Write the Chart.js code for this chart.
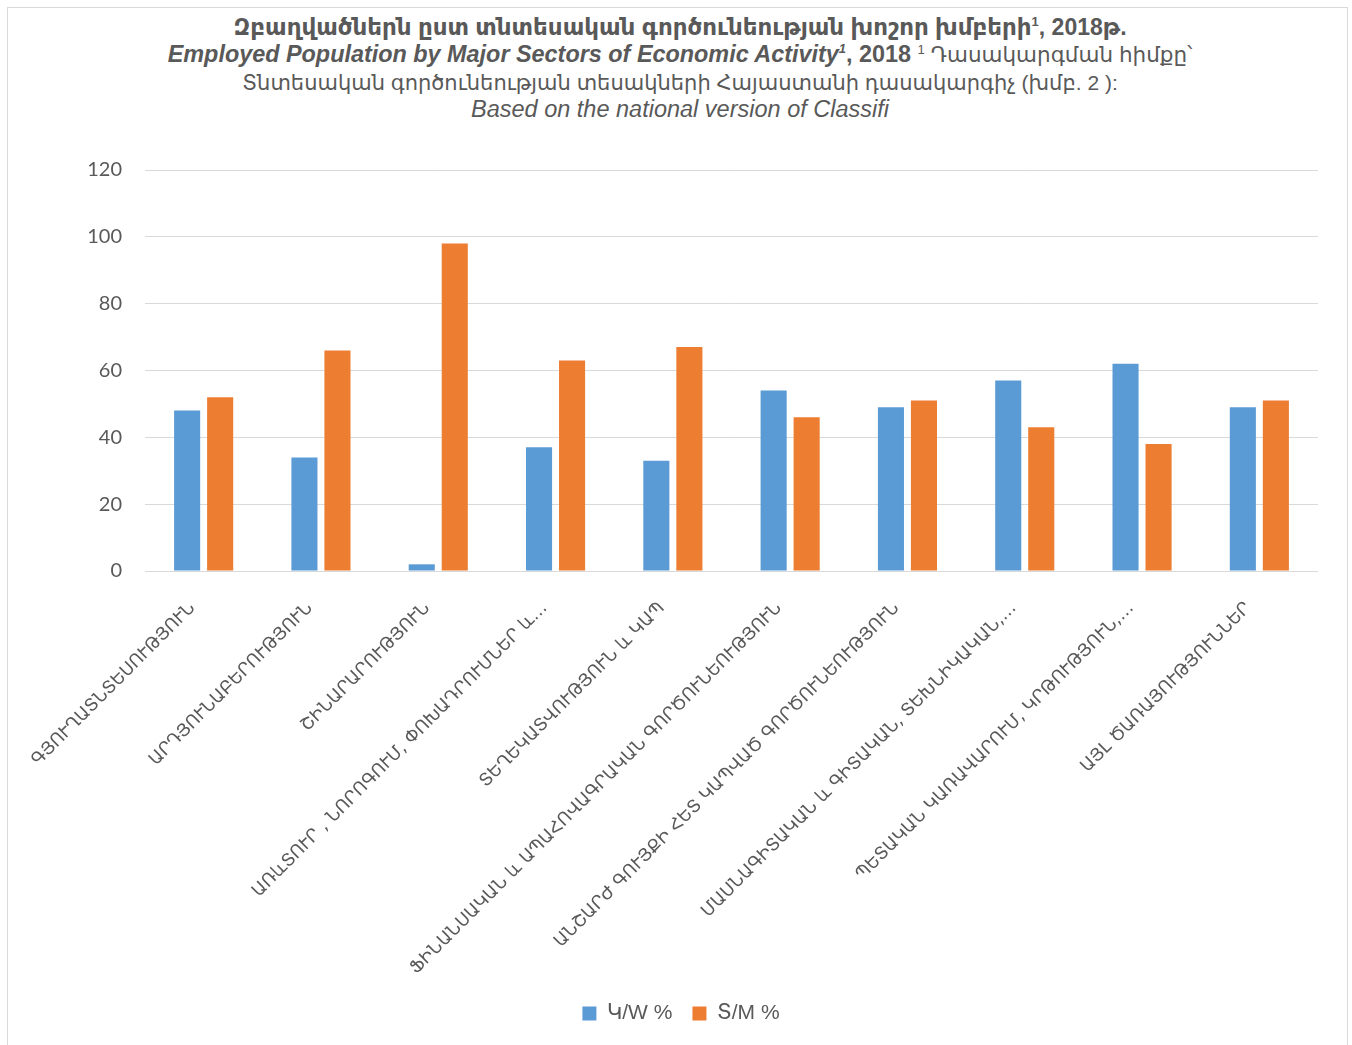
<!DOCTYPE html>
<html>
<head>
<meta charset="utf-8">
<script src="https://cdn.jsdelivr.net/npm/chart.js@4.4.0/dist/chart.umd.min.js"></script>
<style>
  body { margin: 0; background: #fff; }
  #frame { position: absolute; left: 7px; top: 7px; width: 1339px; height: 1050px; border: 1px solid #d9d9d9; }
  #title { position: absolute; left: 4px; top: 14px; width: 1352px; text-align: center;
           font-family: "Liberation Sans", Arial, "DejaVu Sans", sans-serif;
           line-height: 27px; color: #595959; }
  #title div { white-space: nowrap; }
  #title sup { font-size: 13px; line-height: 0; }
  .l1 { font-size: 23px; font-weight: bold; }
  .l2 { font-size: 23.4px; }
  .l2 .arm { font-size: 21.5px; }
  .l3 { font-size: 21px; }
  .l4 { font-size: 23.5px; font-style: italic; }
  #wrap { position: absolute; left: 0; top: 0; width: 1352px; height: 1045px; }
</style>
</head>
<body>
<div id="frame"></div>
<div id="title">
  <div class="l1">Զբաղվածներն ըստ տնտեսական գործունեության խոշոր խմբերի<sup>1</sup>, 2018թ.</div>
  <div class="l2"><b><i>Employed Population by Major Sectors of Economic Activity<sup>1</sup></i>, 2018</b> <span class="arm"><sup>1</sup> Դասակարգման հիմքը՝</span></div>
  <div class="l3">Տնտեսական գործունեության տեսակների Հայաստանի դասակարգիչ (խմբ. 2 ):</div>
  <div class="l4">Based on the national version of Classifi</div>
</div>
<div id="wrap"><canvas id="chart"></canvas></div>
<script>
var categories = [
  'ԳՅՈՒՂԱՏՆՏԵՍՈՒԹՅՈՒՆ',
  'ԱՐԴՅՈՒՆԱԲԵՐՈՒԹՅՈՒՆ',
  'ՇԻՆԱՐԱՐՈՒԹՅՈՒՆ',
  'ԱՌևՏՈՒՐ , ՆՈՐՈԳՈՒՄ, ՓՈԽԱԴՐՈՒՄՆԵՐ և…',
  'ՏԵՂԵԿԱՏՎՈՒԹՅՈՒՆ և ԿԱՊ',
  'ՖԻՆԱՆՍԱԿԱՆ և ԱՊԱՀՈՎԱԳՐԱԿԱՆ ԳՈՐԾՈՒՆԵՈՒԹՅՈՒՆ',
  'ԱՆՇԱՐԺ ԳՈՒՅՔԻ ՀԵՏ ԿԱՊՎԱԾ ԳՈՐԾՈՒՆԵՈՒԹՅՈՒՆ',
  'ՄԱՍՆԱԳԻՏԱԿԱՆ և ԳԻՏԱԿԱՆ, ՏԵԽՆԻԿԱԿԱՆ,…',
  'ՊԵՏԱԿԱՆ ԿԱՌԱՎԱՐՈՒՄ, ԿՐԹՈՒԹՅՈՒՆ,…',
  'ԱՅԼ ԾԱՌԱՅՈՒԹՅՈՒՆՆԵՐ'
];
var womenPct = [48, 34, 2, 37, 33, 54, 49, 57, 62, 49];
var menPct   = [52, 66, 98, 63, 67, 46, 51, 43, 38, 51];
var seriesNames = ['Կ/W %', 'Տ/M %'];
var yMin = 0, yMax = 120, yStep = 20;

var grey = '#595959';

var ctx = document.getElementById('chart').getContext('2d');
var chart = new Chart(ctx, {
  type: 'bar',
  data: {
    labels: categories,
    datasets: [
      { label: seriesNames[0], data: womenPct, backgroundColor: '#5B9BD5' },
      { label: seriesNames[1], data: menPct, backgroundColor: '#ED7D31' }
    ]
  },
  options: {
    responsive: true,
    maintainAspectRatio: false,
    animation: false,
    categoryPercentage: 0.563,
    barPercentage: 0.79,
    layout: { padding: { top: 170, left: 44, right: 34, bottom: 11 } },
    plugins: {
      title: { display: false },
      tooltip: { enabled: false },
      legend: {
        position: 'bottom',
        labels: {
          boxWidth: 14, boxHeight: 14, padding: 20,
          color: grey,
          font: { family: '"Liberation Sans", Arial, "DejaVu Sans", sans-serif', size: 21 }
        }
      }
    },
    scales: {
      x: {
        grid: { display: false },
        border: { display: false },
        ticks: {
          color: grey, autoSkip: false, minRotation: 45, maxRotation: 45,
          padding: 19, labelOffset: -11,
          font: { family: '"DejaVu Sans", sans-serif', size: 17.5 }
        },
        afterFit: function (scale) { scale.height = 412; }
      },
      y: {
        min: yMin, max: yMax,
        grid: { color: '#d9d9d9', drawTicks: false },
        border: { display: false },
        ticks: {
          stepSize: yStep, color: grey, padding: 23,
          font: { family: 'Lato, "Liberation Sans", sans-serif', size: 20 }
        },
        afterFit: function (scale) { scale.width = 101; }
      }
    }
  }
});
</script>
</body>
</html>
